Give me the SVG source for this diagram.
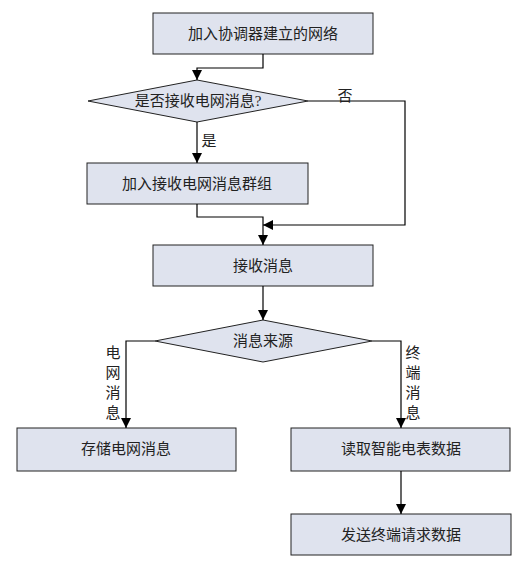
<svg xmlns="http://www.w3.org/2000/svg" width="518" height="567" viewBox="0 0 518 567">
<style>
.box{fill:#dfe3ee;stroke:#222;stroke-width:1}
.t{font-family:"Liberation Serif","Noto Sans CJK SC",serif;font-size:15px;fill:#222;text-anchor:middle;dominant-baseline:central}
.c{fill:none;stroke:#000;stroke-width:1.2}
</style>
<defs>
<marker id="ah" viewBox="0 0 10 10" refX="10" refY="5" markerWidth="10" markerHeight="10" markerUnits="userSpaceOnUse" orient="auto">
<path d="M0,0 L10,5 L0,10 Z" fill="#000"/>
</marker>
</defs>
<rect width="518" height="567" fill="#fff"/>
<g id="n1"><rect class="box" x="153" y="13" width="220" height="41"/><text class="t" x="263" y="34">加入协调器建立的网络</text></g>
<g id="d1"><polygon class="box" points="88,101 197,80 308,101 197,122"/><text class="t" x="198" y="101">是否接收电网消息?</text></g>
<g id="n2"><rect class="box" x="87" y="163" width="221" height="41"/><text class="t" x="197" y="184">加入接收电网消息群组</text></g>
<g id="n3"><rect class="box" x="153" y="245" width="220" height="41"/><text class="t" x="263" y="266">接收消息</text></g>
<g id="d2"><polygon class="box" points="155,341 263,320 372,341 263,362"/><text class="t" x="263" y="341">消息来源</text></g>
<g id="n4"><rect class="box" x="17" y="428" width="219" height="43"/><text class="t" x="126" y="449">存储电网消息</text></g>
<g id="n5"><rect class="box" x="291" y="428" width="219" height="43"/><text class="t" x="401" y="449">读取智能电表数据</text></g>
<g id="n6"><rect class="box" x="291" y="514" width="220" height="41"/><text class="t" x="401" y="535">发送终端请求数据</text></g>
<g id="connectors">
<path class="c" d="M263,54 V68 H197 V80" marker-end="url(#ah)"/>
<path class="c" d="M197,122 V163" marker-end="url(#ah)"/>
<path class="c" d="M308,101 H405 V225 H263" marker-end="url(#ah)"/>
<path class="c" d="M197,204 V217 H263 V245" marker-end="url(#ah)"/>
<path class="c" d="M263,286 V320" marker-end="url(#ah)"/>
<path class="c" d="M155,341 H126 V428" marker-end="url(#ah)"/>
<path class="c" d="M372,341 H401 V428" marker-end="url(#ah)"/>
<path class="c" d="M401,471 V514" marker-end="url(#ah)"/>
<text class="t" x="345" y="96">否</text>
<text class="t" x="209" y="141">是</text>
<text class="t" x="113" y="353">电</text>
<text class="t" x="113" y="373">网</text>
<text class="t" x="113" y="393">消</text>
<text class="t" x="113" y="413">息</text>
<text class="t" x="413" y="353">终</text>
<text class="t" x="413" y="373">端</text>
<text class="t" x="413" y="393">消</text>
<text class="t" x="413" y="413">息</text>
</g>
</svg>
